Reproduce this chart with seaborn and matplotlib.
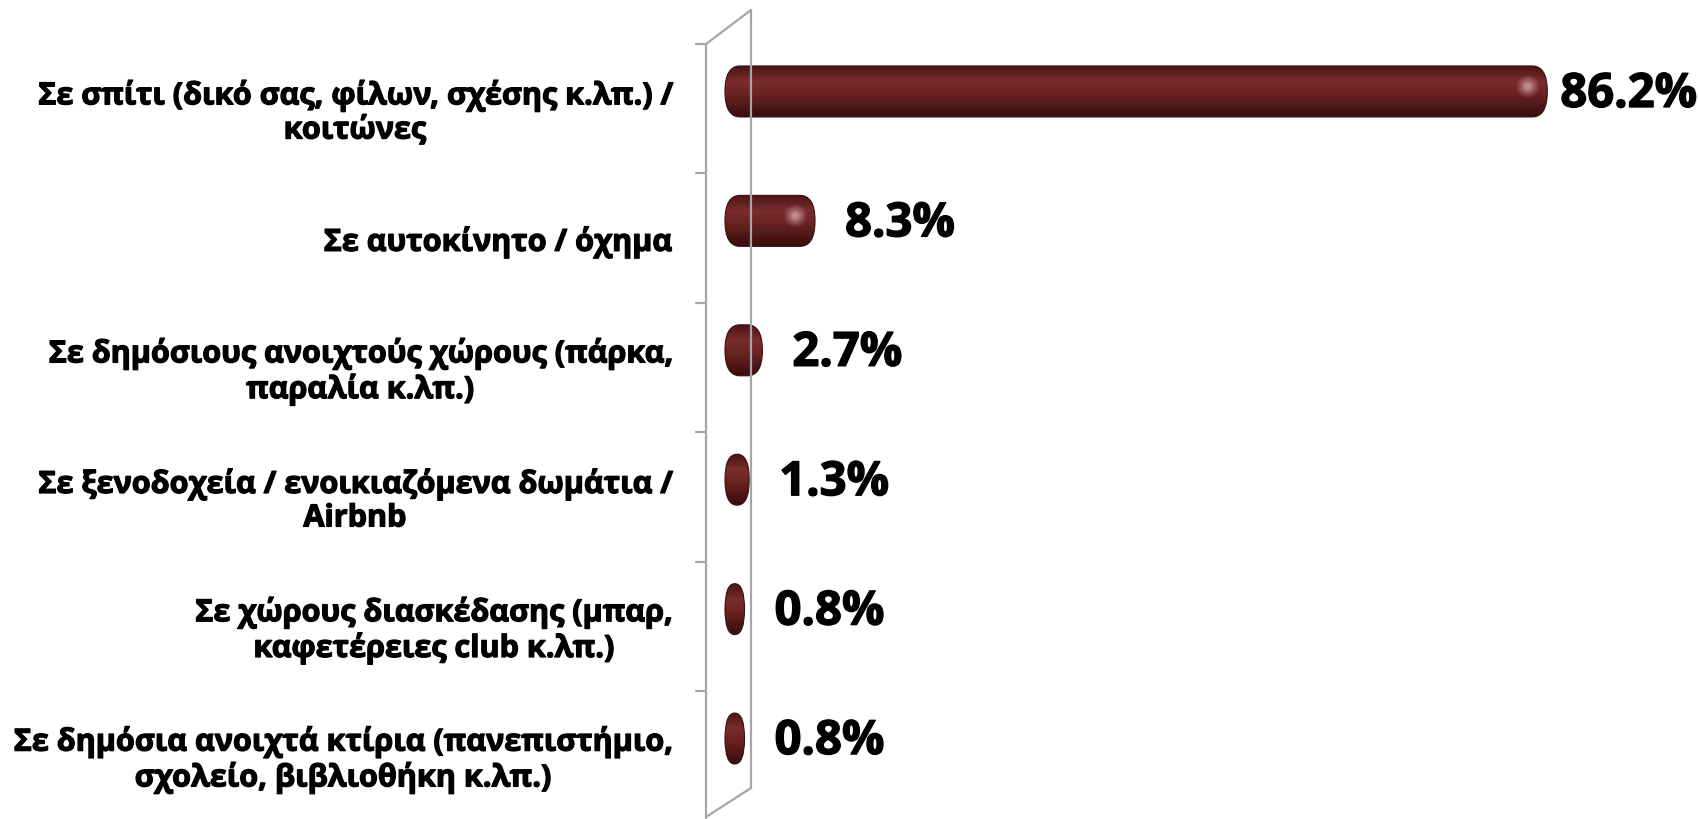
import numpy as np
import pandas as pd
import seaborn as sns
import matplotlib.pyplot as plt
import matplotlib.patheffects as pe
from matplotlib.patches import FancyBboxPatch, Ellipse
from matplotlib.lines import Line2D
from matplotlib.colors import LinearSegmentedColormap

categories = [
    "Σε σπίτι (δικό σας, φίλων, σχέσης κ.λπ.) /\nκοιτώνες",
    "Σε αυτοκίνητο / όχημα",
    "Σε δημόσιους ανοιχτούς χώρους (πάρκα,\nπαραλία κ.λπ.)",
    "Σε ξενοδοχεία / ενοικιαζόμενα δωμάτια /\nAirbnb",
    "Σε χώρους διασκέδασης (μπαρ,\nκαφετέρειες club κ.λπ.)",
    "Σε δημόσια ανοιχτά κτίρια (πανεπιστήμιο,\nσχολείο, βιβλιοθήκη κ.λπ.)",
]
values = [86.2, 8.3, 2.7, 1.3, 0.8, 0.8]
value_labels = ["86.2%", "8.3%", "2.7%", "1.3%", "0.8%", "0.8%"]

sns.set_theme(style="white")
plt.rcParams["font.family"] = ["Open Sans", "DejaVu Sans"]

W, H = 1698, 820
fig = plt.figure(figsize=(W / 100, H / 100), dpi=100)

# x=0 sits at zero_px; a little room on the left for the rounded caps
zero_px, top_px, bot_px = 731, 27.75, 804.25
px_per_pct = 9.4
xmin = -3
left_px = zero_px + xmin * px_per_pct
ax = fig.add_axes([left_px / W, (H - bot_px) / H, (W - left_px) / W, (bot_px - top_px) / H])

df = pd.DataFrame({"place": categories, "pct": values})
bar_color = "#6a2222"
sns.barplot(data=df, x="pct", y="place", orient="h", color=bar_color,
            width=0.394, saturation=1, ax=ax)
xlim = (xmin, xmin + (W - left_px) / px_per_pct)

shade = LinearSegmentedColormap.from_list(
    "capsule", [(0, "#4a1515"), (0.3, "#7b2d2d"), (0.55, "#6a2222"), (1, "#3a0d0d")])
grad = np.linspace(0, 1, 64).reshape(-1, 1)

# turn the flat bars into shaded capsules
padx = 6 / px_per_pct
rx = 15 / px_per_pct
for p in list(ax.patches):
    x, y, w, h = p.get_x(), p.get_y(), p.get_width(), p.get_height()
    p.remove()
    bw = w + 2 * padx
    r = min(rx, bw / 2)
    cap = FancyBboxPatch((x - padx, y), bw, h,
                         boxstyle=f"round,pad=0,rounding_size={r}",
                         mutation_aspect=(h / 2) / r,
                         fc="none", ec="#3a0d0d", lw=0.8, zorder=4)
    ax.add_patch(cap)
    im = ax.imshow(grad, cmap=shade, extent=[x - padx, x - padx + bw, y + h, y],
                   origin="upper", aspect="auto", zorder=3, interpolation="bilinear")
    im.set_clip_path(cap)
    if bw * px_per_pct > 40:
        for k, a in enumerate([0.12, 0.15, 0.2, 0.3]):
            s = 1 - k * 0.22
            ax.add_patch(Ellipse((x + w - 0.9 * rx, y + h * 0.4), 22 * s / px_per_pct, h * 0.42 * s,
                                 fc="#f6d0d0", ec="none", alpha=a, zorder=5))

ax.set_xlim(*xlim)
ax.set_ylim(5.5, -0.5)
ax.set_xticks([])
ax.set_yticks([])
ax.set_xlabel("")
ax.set_ylabel("")
for s in ax.spines.values():
    s.set_visible(False)
ax.patch.set_alpha(0)

# fake 3d wall drawn in figure pixels
wall = "#a6a6a6"
def seg(xs, ys):
    fig.add_artist(Line2D([v / W for v in xs], [1 - v / H for v in ys],
                          transform=fig.transFigure, color=wall, lw=1.6))

seg([706, 706], [45, 820])
seg([751, 751], [11, 789])
seg([706, 751], [45, 11])
seg([706, 751], [818, 789])
for k in range(6):
    yk = 45 + k * 129.4
    seg([696, 706], [yk, yk])

heavy = [pe.withStroke(linewidth=0.9, foreground="black")]
for i, cat in enumerate(categories):
    ax.annotate(cat, xy=(xmin, i), xycoords="data",
                xytext=(671 - left_px, -21), textcoords="offset pixels",
                ha="right", va="center", multialignment="center",
                fontsize=22, fontweight="bold", color="black", linespacing=1.15,
                path_effects=heavy)

for i, (v, lab) in enumerate(zip(values, value_labels)):
    end_px = zero_px + v * px_per_pct + 6
    gap = 30 if end_px + 30 + 140 < W else 13
    ax.annotate(lab, xy=(v, i), xytext=(gap + 6, -3), textcoords="offset pixels",
                ha="left", va="center", fontsize=34, fontweight="bold", color="black",
                path_effects=[pe.withStroke(linewidth=1.0, foreground="black")])

fig.savefig("out.png", dpi=100)
